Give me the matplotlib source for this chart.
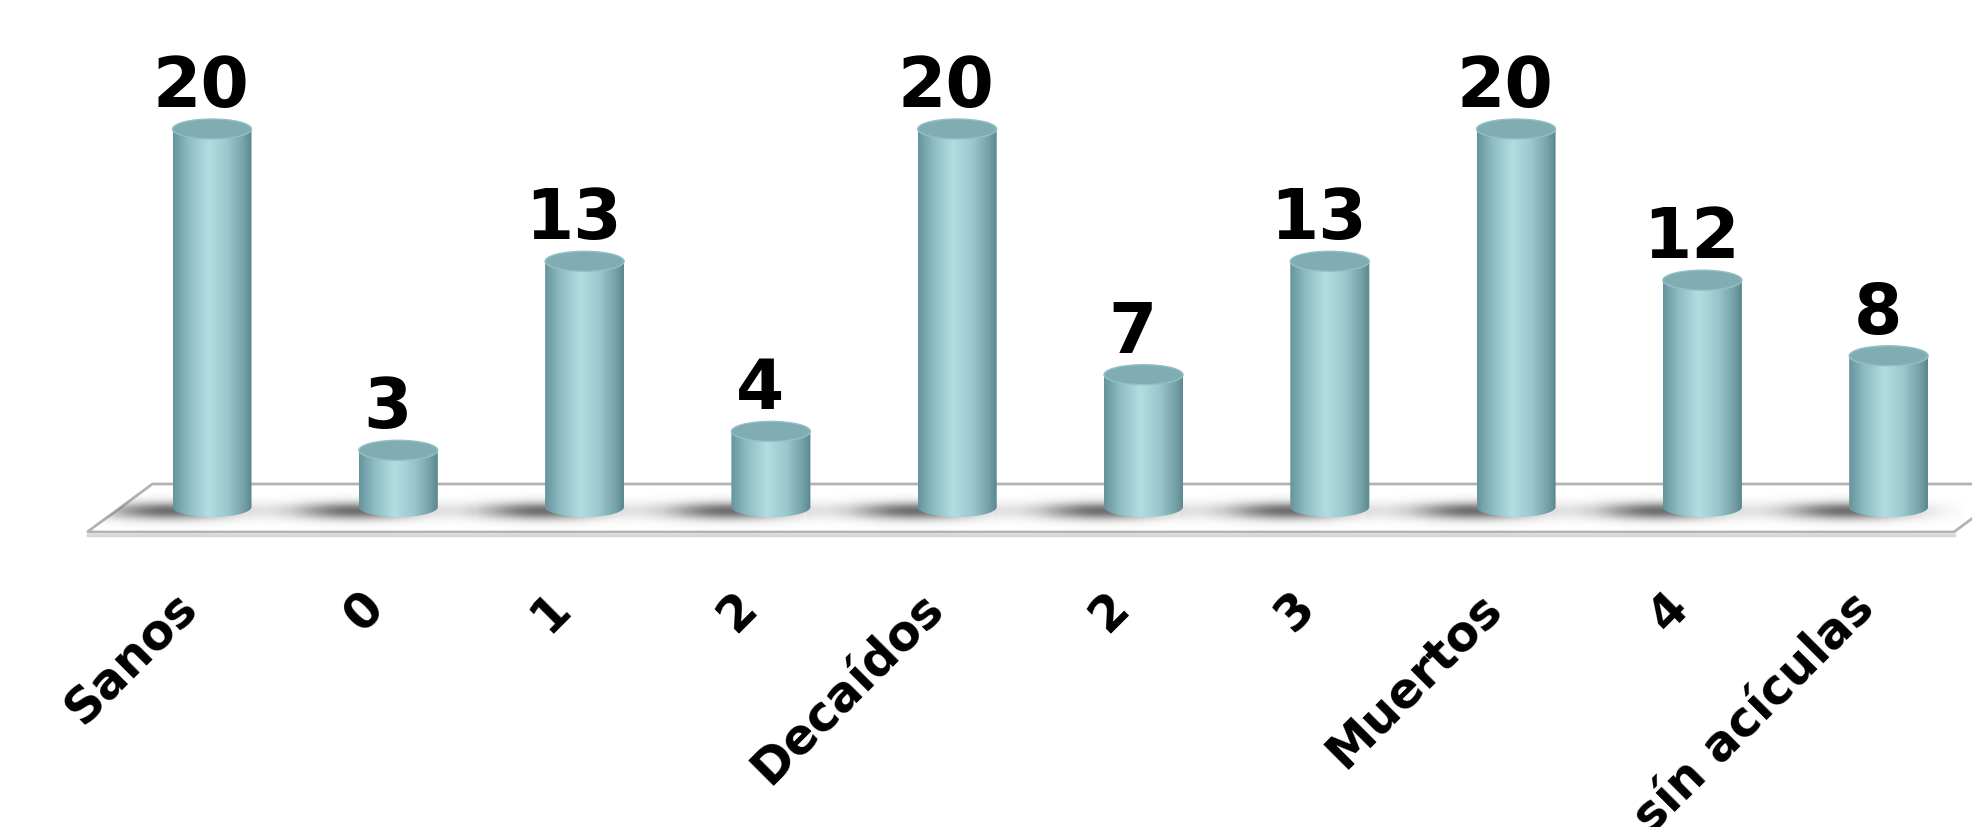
import numpy as np
import matplotlib
matplotlib.use("Agg")
import matplotlib.pyplot as plt
from matplotlib.colors import LinearSegmentedColormap
from matplotlib.patches import Ellipse, Polygon, PathPatch
from matplotlib.path import Path

# datos del grafico
categorias = ["Sanos", "0", "1", "2", "Decaídos", "2", "3", "Muertos", "4", "sín acículas"]
valores = [20, 3, 13, 4, 20, 7, 13, 20, 12, 8]

W, H = 1972, 828
fig = plt.figure(figsize=(W / 100, H / 100), dpi=100)
ax = fig.add_axes([0, 0, 1, 1])
ax.axis("off")

# escala: una categoria = 186.3 px, una unidad = 18.9 px
px_cat = 186.3
px_val = 18.9
x_first = 212
y_base = 508

bw = 39.5 / px_cat   # medio ancho del cilindro
eh = 10 / px_val     # medio alto de la elipse

# suelo en perspectiva
fl_left, fl_right = -0.67, 9.35
fl_dx = 0.35
y_front, y_back = -25 / px_val, 23 / px_val
suelo = Polygon([(fl_left, y_front), (fl_right, y_front),
                 (fl_right + fl_dx, y_back), (fl_left + fl_dx, y_back)],
                closed=True, fc="white", ec="#b3b3b3", lw=2, zorder=1)
ax.add_patch(suelo)
ax.plot([fl_left + 0.005, fl_right], [y_front - 3 / px_val] * 2, color="#d8d8d8", lw=2.5, zorder=1)

cmap_body = LinearSegmentedColormap.from_list(
    "cil", [(0, "#66949c"), (0.2, "#8ebdc4"), (0.45, "#b3dde2"),
            (0.7, "#99c7cd"), (0.9, "#74a0a7"), (1, "#5a868e")])
grad = np.linspace(0, 1, 256).reshape(1, -1)

# sombra difusa
gx = np.linspace(-1, 1, 200)
gy = np.linspace(-1, 1, 70)
GX, GY = np.meshgrid(gx, gy)
sombra = np.zeros((70, 200, 4))
sombra[..., :3] = 0.33
sombra[..., 3] = 0.85 * np.exp(-((GX + 0.05) / 0.55) ** 2 - ((GY + 0.1) / 0.4) ** 2)

theta = np.linspace(np.pi, 2 * np.pi, 60)
for i, v in enumerate(valores):
    # sombra
    sx0 = i - 150 / px_cat
    sx1 = i + 75 / px_cat
    sh = ax.imshow(sombra, extent=(sx0, sx1, -28 / px_val, 16 / px_val),
                   aspect="auto", zorder=2, interpolation="bilinear")
    sh.set_clip_path(suelo)
    # cuerpo
    verts = [(i - bw, v)]
    verts += list(zip(i + bw * np.cos(theta), eh * np.sin(theta)))
    verts += [(i + bw, v), (i - bw, v)]
    codes = [Path.MOVETO] + [Path.LINETO] * (len(verts) - 2) + [Path.CLOSEPOLY]
    cuerpo = PathPatch(Path(verts, codes), fc="none", ec="none", zorder=3)
    ax.add_patch(cuerpo)
    im = ax.imshow(grad, cmap=cmap_body, extent=(i - bw, i + bw, -eh, v),
                   aspect="auto", zorder=3)
    im.set_clip_path(cuerpo)
    # tapa
    ax.add_patch(Ellipse((i, v), 2 * bw, 2 * eh, fc="#80adb4", ec="#93c0c6",
                         lw=1, zorder=4))
    # etiqueta de valor
    ax.text(i - 11 / px_cat, v + eh + 13 / px_val, str(v), ha="center", va="baseline",
            fontsize=50, fontweight="bold", family="DejaVu Sans", zorder=5)

for i, c in enumerate(categorias):
    ax.text(i - 22 / px_cat, -92 / px_val, c, rotation=45, rotation_mode="anchor",
            ha="right", va="center", fontsize=35, fontweight="bold",
            family="DejaVu Sans", zorder=5)

ax.set_xlim(-x_first / px_cat, (W - x_first) / px_cat)
ax.set_ylim(-(H - y_base) / px_val, y_base / px_val)

fig.savefig("out.png", dpi=100)
